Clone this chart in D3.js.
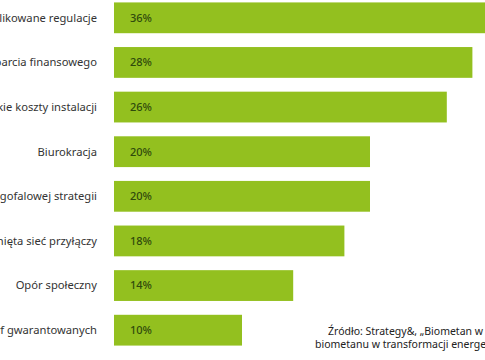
<!DOCTYPE html>
<html><head><meta charset="utf-8">
<script src="https://cdn.jsdelivr.net/npm/d3@7"></script>
<style>html,body{margin:0;padding:0;background:#fff;overflow:hidden}</style>
</head><body>
<svg id="c" width="485" height="360"></svg>
<script>
const categories = [
  "Skomplikowane regulacje",
  "Brak wsparcia finansowego",
  "Wysokie koszty instalacji",
  "Biurokracja",
  "Brak długofalowej strategii",
  "Niedostatecznie rozwinięta sieć przyłączy",
  "Opór społeczny",
  "Brak taryf gwarantowanych"
];
const values = [36, 28, 26, 20, 20, 18, 14, 10];
const valueLabels = ["36%", "28%", "26%", "20%", "20%", "18%", "14%", "10%"];
const sourceLines = [
  "Źródło: Strategy&, „Biometan w Polsce. Rola",
  "biometanu w transformacji energetycznej”"
];

const svg = d3.select("#c");
const x = d3.scaleLinear().domain([0, 10]).range([114, 242]);
const y = d3.scaleBand().domain(categories).range([-4.5, 352.5]).paddingInner(0.31).paddingOuter(0.155);

const font = "'Noto Sans', sans-serif";

svg.append("g").selectAll("rect").data(categories).join("rect")
  .attr("x", x(0))
  .attr("y", d => y(d))
  .attr("width", (d, i) => x(values[i]) - x(0))
  .attr("height", y.bandwidth())
  .attr("fill", "#93c01f");

svg.append("g").selectAll("text").data(categories).join("text")
  .attr("x", 97)
  .attr("y", d => y(d) + y.bandwidth() / 2)
  .attr("dy", "0.35em")
  .attr("text-anchor", "end")
  .attr("font-family", font)
  .attr("font-size", 11.2)
  .attr("fill", "#333")
  .text(d => d);

svg.append("g").selectAll("text").data(categories).join("text")
  .attr("x", 130)
  .attr("y", d => y(d) + y.bandwidth() / 2)
  .attr("dy", "0.35em")
  .attr("font-family", font)
  .attr("font-size", 11)
  .attr("font-weight", 500)
  .attr("fill", "#2f4a0c")
  .text((d, i) => valueLabels[i]);

svg.append("g").selectAll("text").data(sourceLines).join("text")
  .attr("x", (d, i) => i === 0 ? 328 : 315)
  .attr("y", (d, i) => 334.5 + i * 13)
  .attr("font-family", font)
  .attr("font-size", 10.5)
  .attr("fill", "#222")
  .text(d => d);
</script>
</body></html>
